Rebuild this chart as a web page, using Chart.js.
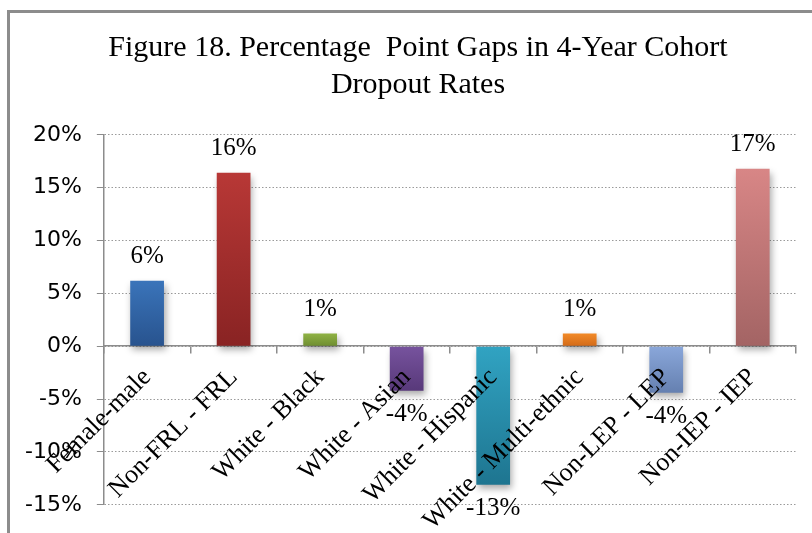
<!DOCTYPE html>
<html>
<head>
<meta charset="utf-8">
<script src="https://cdn.jsdelivr.net/npm/chart.js@4"></script>
<style>
  body { margin: 0; background: #fff; }
  #frame { position: absolute; left: 7px; top: 10px; width: 900px; height: 600px; border: 3px solid #8c8c8c; }
  #wrap { position: absolute; left: 0; top: 0; width: 812px; height: 533px; }
</style>
</head>
<body>
<div id="frame"></div>
<div id="wrap"><canvas id="myChart" width="812" height="533"></canvas></div>
<script>
const categories = ['Female-male', 'Non-FRL - FRL', 'White - Black', 'White - Asian',
  'White - Hispanic', 'White - Multi-ethnic', 'Non-LEP - LEP', 'Non-IEP - IEP']
const gaps = [6.2, 16.4, 1.2, -4.2, -13.1, 1.2, -4.4, 16.8]
const yTicks = [-15, -10, -5, 0, 5, 10, 15, 20]

const topColors = ['#3a74ba', '#b83836', '#8fb244', '#77539e', '#31a3c2', '#f28a28', '#8aa7da', '#d88686']
const bottomColors = ['#28538e', '#892323', '#6e8d31', '#58397a', '#1e7590', '#d26a18', '#6580b0', '#a36464']

function barColor(ctx) {
  const chart = ctx.chart
  const i = ctx.dataIndex
  if (!chart.chartArea) return topColors[i]
  const y = chart.scales.y
  const a = y.getPixelForValue(Math.max(gaps[i], 0))
  const b = y.getPixelForValue(Math.min(gaps[i], 0))
  const g = chart.ctx.createLinearGradient(0, a, 0, b)
  g.addColorStop(0, topColors[i])
  g.addColorStop(1, bottomColors[i])
  return g
}

const barShadow = {
  id: 'barShadow',
  beforeDatasetDraw(chart) {
    const ctx = chart.ctx
    ctx.save()
    ctx.shadowColor = 'rgba(0,0,0,0.35)'
    ctx.shadowBlur = 7
    ctx.shadowOffsetX = 2
    ctx.shadowOffsetY = 4
  },
  afterDatasetDraw(chart) {
    chart.ctx.restore()
  },
}

// title sits a little right of centre in the original
const titleShift = {
  id: 'titleShift',
  afterLayout(chart) {
    if (chart.titleBlock) {
      chart.titleBlock.left += 15
      chart.titleBlock.right += 15
    }
  },
}

const valueLabels = {
  id: 'valueLabels',
  afterDatasetsDraw(chart) {
    const ctx = chart.ctx
    const meta = chart.getDatasetMeta(0)
    ctx.save()
    ctx.font = '25px "Liberation Serif"'
    ctx.fillStyle = '#000'
    ctx.textAlign = 'center'
    ctx.textBaseline = 'middle'
    meta.data.forEach((bar, i) => {
      const v = gaps[i]
      const off = v >= 0 ? -24 : 24
      ctx.fillText(Math.round(v) + '%', bar.x, bar.y + off)
    })
    ctx.restore()
  },
}

let data = {
  labels: categories,
  datasets: [
    {
      label: 'Gap',
      data: gaps,
      backgroundColor: barColor,
      borderWidth: 0,
      categoryPercentage: 1,
      barPercentage: 0.39,
    },
  ],
}

let config = {
  type: 'bar',
  data: data,
  plugins: [barShadow, valueLabels, titleShift],
  options: {
    responsive: false,
    animation: false,
    layout: {
      padding: { left: 10, right: 16, top: 12, bottom: 26 },
    },
    scales: {
      y: {
        min: -15,
        max: 20,
        afterBuildTicks: (axis) => {
          axis.ticks = yTicks.map((v) => ({ value: v }))
        },
        ticks: {
          padding: 15,
          color: '#000',
          font: { family: '"DejaVu Sans"', size: 22 },
          callback: (v) => v + '%',
        },
        grid: {
          color: '#9a9a9a',
          lineWidth: 1,
          tickLength: 7,
          tickColor: '#8c8c8c',
          tickBorderDash: [],
        },
        border: {
          color: '#8c8c8c',
          width: 1.5,
          dash: [1.5, 2],
        },
      },
      x: {
        position: { y: 0 },
        afterFit: (axis) => {
          axis.paddingLeft = 0
          axis.paddingRight = 0
        },
        ticks: {
          z: 1,
          autoSkip: false,
          minRotation: 45,
          maxRotation: 45,
          padding: 9,
          color: '#000',
          font: { family: '"Liberation Serif"', size: 26 },
        },
        grid: {
          offset: true,
          drawOnChartArea: false,
          tickLength: 7,
          tickColor: '#8c8c8c',
          lineWidth: 1.5,
        },
        border: {
          color: '#8c8c8c',
          width: 1.5,
        },
      },
    },
    plugins: {
      legend: { display: false },
      tooltip: { enabled: false },
      title: {
        display: true,
        text: ['Figure 18. Percentage  Point Gaps in 4-Year Cohort', 'Dropout Rates'],
        color: '#000',
        font: { family: '"Liberation Serif"', size: 30, weight: 'normal', lineHeight: 1.23 },
        padding: { top: 18, bottom: 31 },
      },
    },
  },
}

let chart = new Chart(document.getElementById('myChart'), config)
</script>
</body>
</html>
